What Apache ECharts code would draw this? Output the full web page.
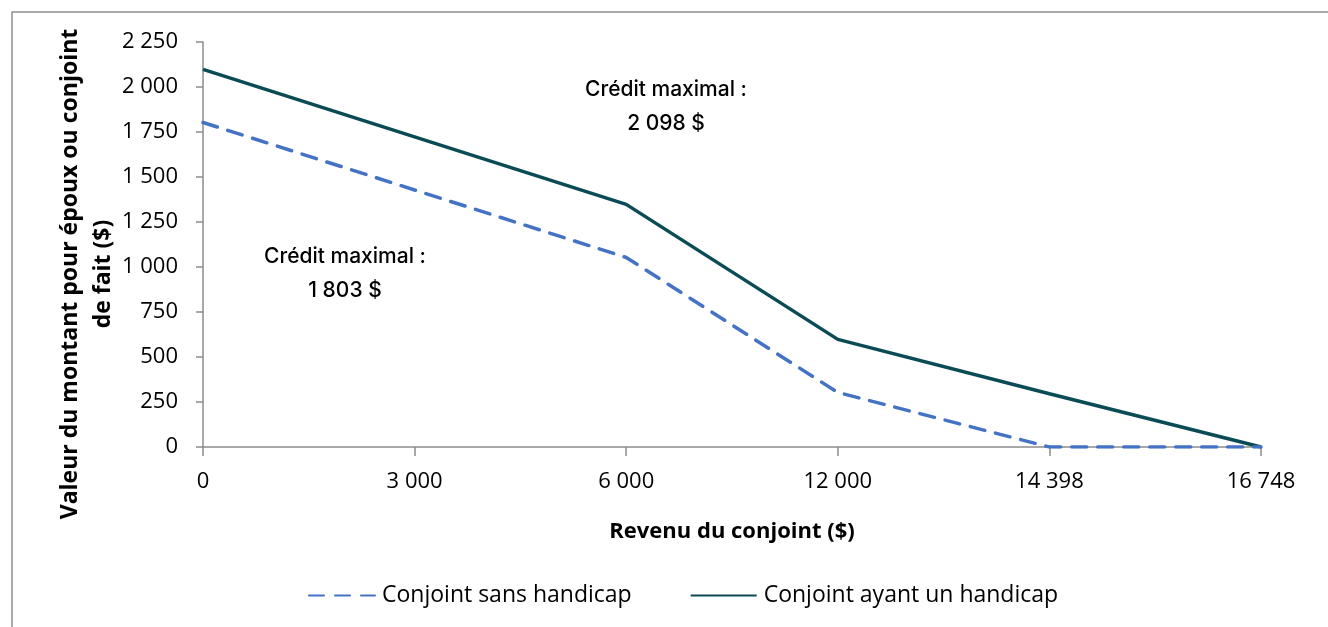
<!DOCTYPE html>
<html>
<head>
<meta charset="utf-8">
<script src="https://cdn.jsdelivr.net/npm/echarts@6/dist/echarts.min.js"></script>
<style>
  html, body { margin: 0; padding: 0; background: #fff; }
  #chart { width: 1328px; height: 627px; }
</style>
</head>
<body>
<div id="chart"></div>
<script>
// Revenu du conjoint ($)
const categories = ['0', '3 000', '6 000', '12 000', '14 398', '16 748']
// Conjoint sans handicap
const sansHandicap = [1803, 1428, 1053, 303, 0, 0]
// Conjoint ayant un handicap
const avecHandicap = [2098, 1723, 1348, 598, 296, 0]
// graduations de l'axe vertical
const yMin = 0
const yMax = 2250
const yStep = 250

const axisFont = "'Open Sans', 'Liberation Sans', sans-serif"
const noteFont = "Inter, 'Noto Sans', sans-serif"

const fmt = v => String(v).replace(/\B(?=(\d{3})+(?!\d))/g, ' ')

const chart = echarts.init(document.getElementById('chart'))

const option = {
  backgroundColor: '#fff',
  animation: false,
  grid: { left: 203, right: 67, top: 42, bottom: 180, outerBoundsMode: 'none' },
  legend: {
    bottom: 15,
    left: 303,
    itemWidth: 66,
    itemHeight: 14,
    itemGap: 58,
    itemStyle: { opacity: 0 },
    textStyle: { fontFamily: axisFont, fontSize: 23, color: '#000', padding: [0, 0, 0, 2] },
    data: ['Conjoint sans handicap', 'Conjoint ayant un handicap']
  },
  xAxis: {
    type: 'category',
    data: categories,
    boundaryGap: false,
    name: 'Revenu du conjoint ($)',
    nameLocation: 'middle',
    nameGap: 74,
    nameTextStyle: { fontFamily: axisFont, fontSize: 22, fontWeight: 'bold', color: '#000' },
    axisLine: { lineStyle: { color: '#8c8c8c', width: 1.5 } },
    axisTick: { length: 9, lineStyle: { color: '#8c8c8c', width: 1.5 } },
    axisLabel: { fontFamily: axisFont, fontSize: 22, color: '#000', margin: 24 }
  },
  yAxis: {
    type: 'value',
    min: yMin,
    max: yMax,
    interval: yStep,
    axisLine: { show: true, lineStyle: { color: '#8c8c8c', width: 1.5 } },
    axisTick: { show: true, length: 7, lineStyle: { color: '#8c8c8c', width: 1.5 } },
    splitLine: { show: false },
    axisLabel: { fontFamily: axisFont, fontSize: 22, color: '#000', margin: 25, formatter: fmt }
  },
  series: [
    {
      name: 'Conjoint sans handicap',
      type: 'line',
      data: sansHandicap,
      symbol: 'none',
      color: '#4472c4',
      lineStyle: { color: '#4472c4', width: 3.5, type: [15, 11], cap: 'round' },
      z: 3
    },
    {
      name: 'Conjoint ayant un handicap',
      type: 'line',
      data: avecHandicap,
      symbol: 'none',
      color: '#0b4b55',
      lineStyle: { color: '#0b4b55', width: 3.5 },
      z: 2
    }
  ],
  graphic: [
    {
      type: 'rect',
      shape: { x: 12, y: 12, width: 1340, height: 640 },
      style: { fill: 'none', stroke: '#8f8f8f', lineWidth: 1.5 },
      silent: true
    },
    {
      // titre de l'axe vertical
      type: 'text',
      x: 87, y: 274,
      rotation: Math.PI / 2,
      style: {
        text: 'Valeur du montant pour époux ou conjoint\nde fait ($)',
        align: 'center', verticalAlign: 'middle',
        fontFamily: axisFont, fontSize: 23, fontWeight: 'bold', lineHeight: 33, fill: '#000'
      }
    },
    {
      type: 'text',
      x: 666, y: 107,
      style: {
        text: 'Crédit maximal :\n' + fmt(avecHandicap[0]) + ' $',
        align: 'center', verticalAlign: 'middle',
        fontFamily: noteFont, fontSize: 21, fontWeight: 500, lineHeight: 34, fill: '#000'
      }
    },
    {
      type: 'text',
      x: 345, y: 274,
      style: {
        text: 'Crédit maximal :\n' + fmt(sansHandicap[0]) + ' $',
        align: 'center', verticalAlign: 'middle',
        fontFamily: noteFont, fontSize: 21, fontWeight: 500, lineHeight: 34, fill: '#000'
      }
    }
  ]
}

chart.setOption(option)
</script>
</body>
</html>
